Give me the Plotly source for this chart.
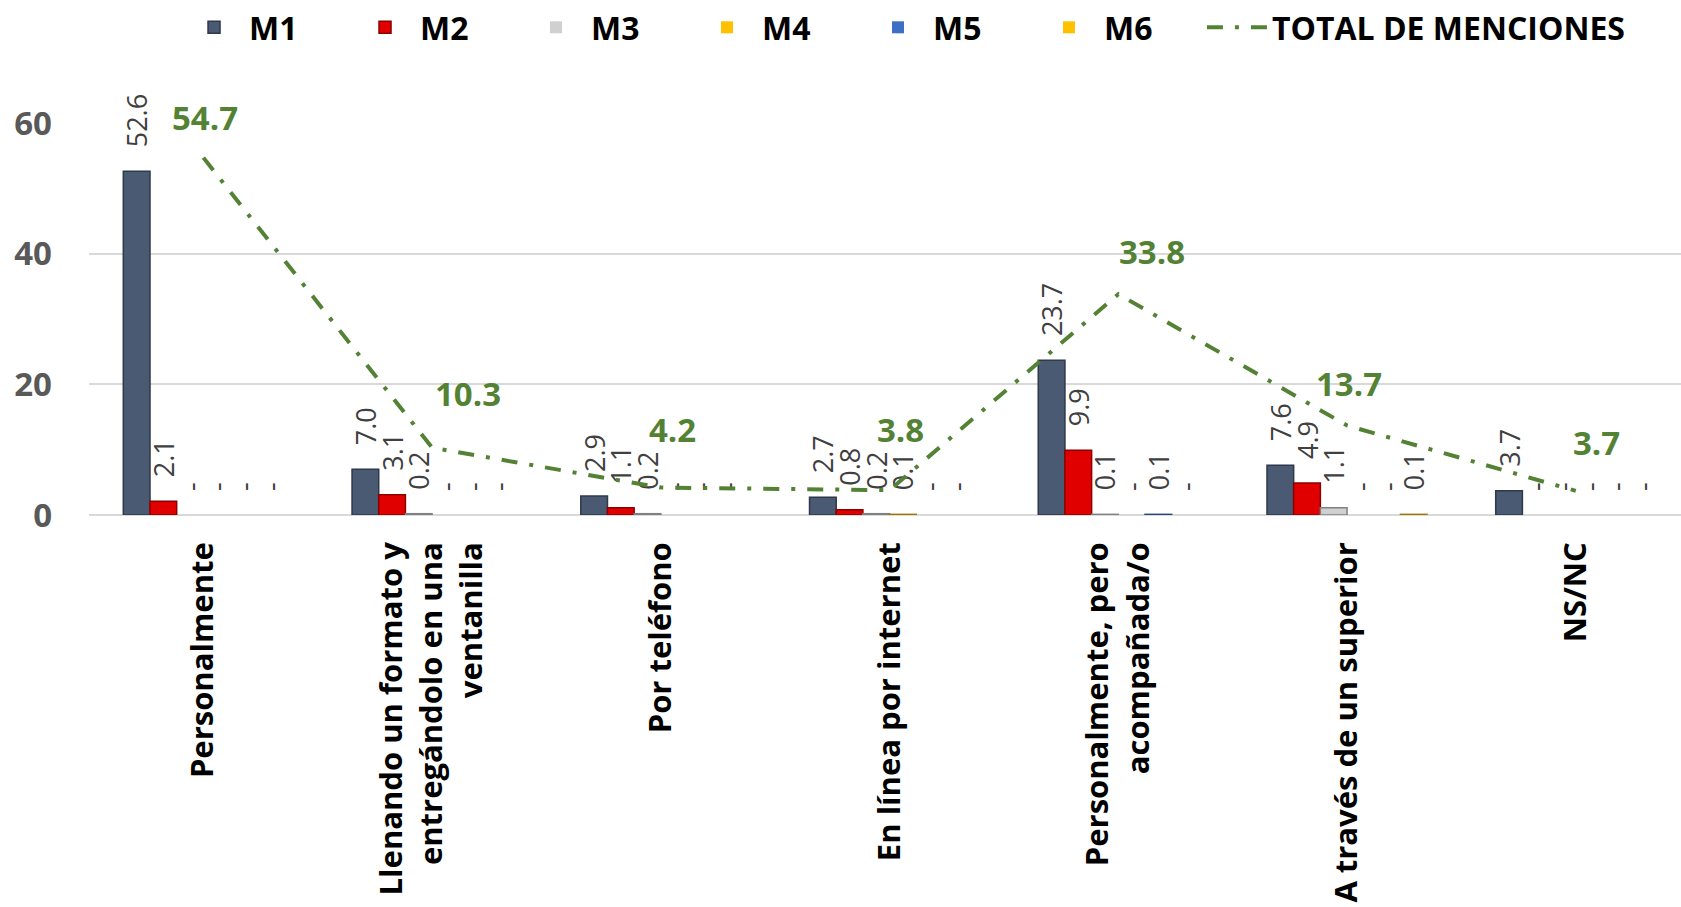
import plotly.graph_objects as go

categories = [
    "Personalmente",
    "Llenando un formato y<br>entregándolo en una<br>ventanilla",
    "Por teléfono",
    "En línea por internet",
    "Personalmente, pero<br>acompañada/o",
    "A través de un superior",
    "NS/NC",
]
M1 = [52.6, 7.0, 2.9, 2.7, 23.7, 7.6, 3.7]
M2 = [2.1, 3.1, 1.1, 0.8, 9.9, 4.9, 0.0]
M3 = [0.0, 0.2, 0.2, 0.2, 0.1, 1.1, 0.0]
M4 = [0.0, 0.0, 0.0, 0.1, 0.0, 0.0, 0.0]
M5 = [0.0, 0.0, 0.0, 0.0, 0.1, 0.0, 0.0]
M6 = [0.0, 0.0, 0.0, 0.0, 0.0, 0.1, 0.0]
TOTAL = [54.7, 10.3, 4.2, 3.8, 33.8, 13.7, 3.7]
y_ticks = [0, 20, 40, 60]

# label offsets for the total line (style, pixels)
total_xshift = [2, 36, 12, 11, 34, 2, 21]
total_yshift = [40, 54, 58, 61, 43, 42, 48]

series = [
    ("M1", M1, "#4A5A73", "#2E3949"),
    ("M2", M2, "#E00000", "#8E0000"),
    ("M3", M3, "#D0D0D0", "#808080"),
    ("M4", M4, "#FFC000", "#A07800"),
    ("M5", M5, "#3F6FC4", "#24467F"),
    ("M6", M6, "#FFC000", "#A07800"),
]

FONT = "Open Sans"
PAD = "\u00a0\u00a0\u00a0"
x = list(range(len(categories)))

fig = go.Figure()
for name, vals, col, edge in series:
    fig.add_trace(go.Bar(
        name=name, x=x, y=vals,
        marker=dict(color=col,
                    line=dict(color=edge, width=[0 if v == 0 else 1.5 for v in vals])),
        text=[PAD + ("-" if v == 0 else f"{v:.1f}") for v in vals],
        textposition="outside", textangle=-90,
        textfont=dict(family=FONT, size=27, color="#404040"),
        constraintext="none", cliponaxis=False,
    ))

fig.add_trace(go.Scatter(
    name="TOTAL DE MENCIONES", x=x, y=TOTAL,
    mode="lines", legend="legend2",
    line=dict(color="#548235", width=4, dash="16px,12px,4px,12px"),
    cliponaxis=False,
))

for i, v in enumerate(TOTAL):
    fig.add_annotation(
        x=x[i], y=v, text=f"{v:.1f}", showarrow=False,
        xshift=total_xshift[i], yshift=total_yshift[i],
        font=dict(family=FONT, size=33, color="#548235", weight="bold"),
    )

legend_font = dict(family=FONT, size=32, color="black", weight="bold")
fig.update_layout(
    width=1681, height=907,
    margin=dict(l=89, r=0, t=123, b=392),
    paper_bgcolor="white", plot_bgcolor="white",
    barmode="group", bargap=0.3, bargroupgap=0,
    showlegend=True,
    legend=dict(
        orientation="h", xref="container", yref="container",
        x=0.1065, y=1.0, xanchor="left", yanchor="top",
        font=legend_font,
        entrywidth=96, entrywidthmode="pixels", itemwidth=60,
        bgcolor="rgba(0,0,0,0)",
    ),
    legend2=dict(
        orientation="h", xref="container", yref="container",
        x=0.715, y=1.0, xanchor="left", yanchor="top",
        font=legend_font, itemwidth=60,
        bgcolor="rgba(0,0,0,0)",
    ),
    xaxis=dict(
        tickmode="array", tickvals=x, ticktext=categories,
        range=[-0.5, 6.46], tickangle=-90,
        tickfont=dict(family=FONT, size=31, color="black", weight="bold"),
        showgrid=False, showline=False, zeroline=False,
        ticklabelstandoff=20, automargin=False,
    ),
    yaxis=dict(
        range=[0, 60], tickvals=y_ticks,
        tickfont=dict(family=FONT, size=33, color="#595959", weight="bold"),
        showgrid=True, gridcolor="#D9D9D9", gridwidth=2,
        zeroline=True, zerolinecolor="#D9D9D9", zerolinewidth=2,
        showline=False, ticklabelstandoff=36, automargin=False,
    ),
)

fig.write_html(
    "out.html",
    config={"displayModeBar": False},
    post_script="document.body.style.margin='0';document.body.style.overflow='hidden';",
)
